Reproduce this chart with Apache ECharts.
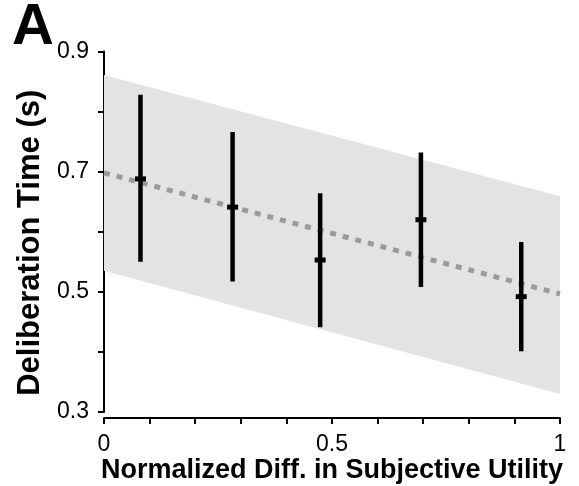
<!DOCTYPE html>
<html>
<head>
<meta charset="utf-8">
<script src="https://cdn.jsdelivr.net/npm/echarts@6/dist/echarts.min.js"></script>
<style>
  html, body { margin: 0; padding: 0; background: #ffffff; }
  #chart { width: 579px; height: 486px; }
</style>
</head>
<body>
<div id="chart"></div>
<script>
// Binned deliberation times (mean with spread) against normalized utility difference
const binX = [0.08, 0.282, 0.474, 0.695, 0.915];
const binMean = [0.688, 0.641, 0.553, 0.620, 0.492];
const binLow = [0.550, 0.517, 0.441, 0.508, 0.401];
const binHigh = [0.828, 0.766, 0.664, 0.732, 0.583];

// Linear fit and its confidence band, sampled at the ends of the axis
const fitX = [0, 1];
const fitY = [0.698, 0.4965];
const bandUpper = [0.861, 0.659];
const bandLower = [0.535, 0.330];

const yTicksLabelled = ['0.3', '0.5', '0.7', '0.9'];
const xTicksLabelled = ['0', '0.5', '1'];

const FONT = 'Liberation Sans, Arial, Helvetica, sans-serif';

const chart = echarts.init(document.getElementById('chart'), null, { renderer: 'canvas' });

const errData = binX.map((x, i) => [x, binLow[i], binHigh[i], binMean[i]]);
const fitData = fitX.map((x, i) => [x, fitY[i]]);

chart.setOption({
  animation: false,
  backgroundColor: '#ffffff',
  title: {
    text: 'A',
    left: 7,
    top: -6,
    textStyle: { fontFamily: FONT, fontSize: 58, fontWeight: 'bold', color: '#000' }
  },
  grid: {
    left: 104, right: 19, top: 51.5, bottom: 74,
    containLabel: false,
    outerBoundsMode: 'none'
  },
  xAxis: {
    type: 'value',
    min: 0, max: 1, interval: 0.1,
    offset: 6,
    splitLine: { show: false },
    axisLine: { show: true, lineStyle: { color: '#000', width: 2 } },
    axisTick: { show: true, length: 6, lineStyle: { color: '#000', width: 2 } },
    axisLabel: {
      fontFamily: FONT, fontSize: 23, color: '#000', margin: 15,
      formatter: v => {
        const s = String(Math.round(v * 10) / 10);
        return xTicksLabelled.includes(s) ? s : '';
      }
    },
    name: 'Normalized Diff. in Subjective Utility',
    nameLocation: 'middle',
    nameGap: 39,
    nameMoveOverlap: false,
    nameTextStyle: { fontFamily: FONT, fontSize: 27, fontWeight: 'bold', color: '#000' }
  },
  yAxis: {
    type: 'value',
    min: 0.3, max: 0.9, interval: 0.1,
    offset: 5,
    splitLine: { show: false },
    axisLine: { show: true, lineStyle: { color: '#000', width: 2 } },
    axisTick: { show: true, length: 6, lineStyle: { color: '#000', width: 2 } },
    axisLabel: {
      fontFamily: FONT, fontSize: 23, color: '#000', margin: 10,
      formatter: v => {
        const s = (Math.round(v * 10) / 10).toFixed(1);
        return yTicksLabelled.includes(s) ? s : '';
      }
    },
    name: 'Deliberation Time (s)',
    nameLocation: 'middle',
    nameGap: 51,
    nameTextStyle: {
      fontFamily: FONT, fontSize: 31, fontWeight: 'bold', color: '#000',
      padding: [0, 22, 0, 0]
    }
  },
  series: [
    {
      // confidence band of the fit
      type: 'custom',
      z: 1,
      silent: true,
      clip: false,
      data: [0],
      renderItem: (params, api) => {
        const pts = [];
        fitX.forEach((x, i) => pts.push(api.coord([x, bandUpper[i]])));
        for (let i = fitX.length - 1; i >= 0; i--) pts.push(api.coord([fitX[i], bandLower[i]]));
        return {
          type: 'polygon',
          shape: { points: pts },
          style: { fill: '#e3e3e3' }
        };
      }
    },
    {
      // regression line
      type: 'line',
      z: 2,
      data: fitData,
      symbol: 'none',
      silent: true,
      lineStyle: { color: '#9a9a9a', width: 5, type: [6, 7], cap: 'butt' }
    },
    {
      // per-bin spread with mean marker
      type: 'custom',
      z: 3,
      silent: true,
      data: errData,
      renderItem: (params, api) => {
        const x = api.value(0);
        const lo = api.coord([x, api.value(1)]);
        const hi = api.coord([x, api.value(2)]);
        const m = api.coord([x, api.value(3)]);
        return {
          type: 'group',
          children: [
            {
              type: 'line',
              shape: { x1: lo[0], y1: lo[1], x2: hi[0], y2: hi[1] },
              style: { stroke: '#000', lineWidth: 4.5, lineCap: 'butt' }
            },
            {
              type: 'rect',
              shape: { x: m[0] - 5.5, y: m[1] - 2.5, width: 11, height: 5 },
              style: { fill: '#000' }
            }
          ]
        };
      }
    }
  ]
});
</script>
</body>
</html>
